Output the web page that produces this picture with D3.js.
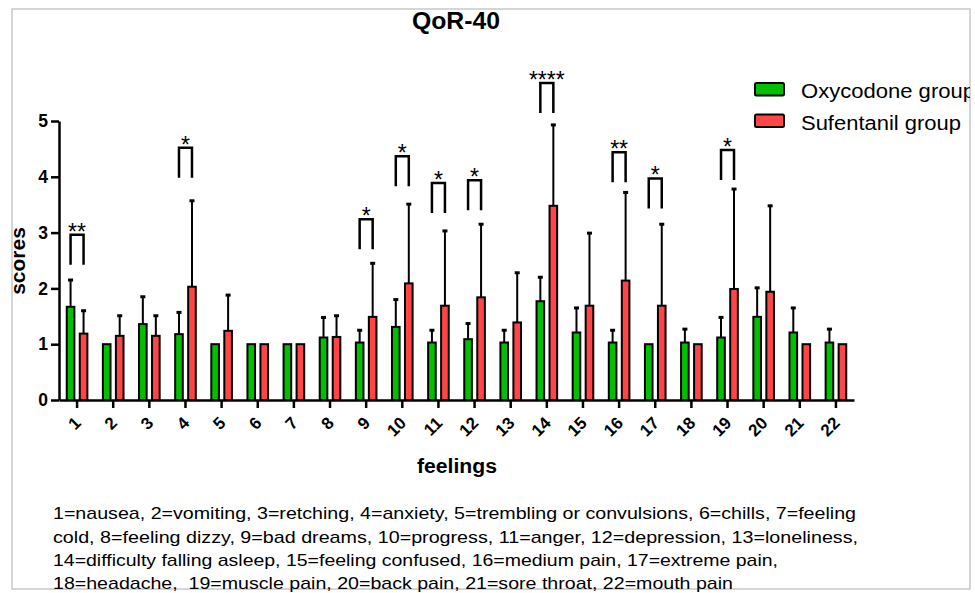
<!DOCTYPE html>
<html>
<head>
<meta charset="utf-8">
<script src="https://cdn.jsdelivr.net/npm/d3@7"></script>
<style>
  body { margin: 0; background: #fff; }
  svg { display: block; font-family: "Liberation Sans", Arial, sans-serif; }
</style>
</head>
<body>
<svg id="chart" width="975" height="593"></svg>
<script>
// QoR-40 item scores (mean with upper SD bar) for the two analgesia groups
const categories = ["1","2","3","4","5","6","7","8","9","10","11","12","13","14","15","16","17","18","19","20","21","22"];
const seriesNames = ["Oxycodone group", "Sufentanil group"];
const oxycodoneMean = [1.67, 1.00, 1.36, 1.18, 1.00, 1.00, 1.00, 1.12, 1.03, 1.31, 1.03, 1.09, 1.03, 1.77, 1.21, 1.03, 1.00, 1.03, 1.12, 1.49, 1.21, 1.03];
const oxycodoneSD   = [0.48, 0.00, 0.49, 0.39, 0.00, 0.00, 0.00, 0.36, 0.22, 0.49, 0.22, 0.28, 0.22, 0.43, 0.44, 0.22, 0.00, 0.24, 0.36, 0.52, 0.44, 0.24];
const sufentanilMean = [1.19, 1.15, 1.15, 2.03, 1.24, 1.00, 1.00, 1.13, 1.49, 2.09, 1.69, 1.84, 1.39, 3.48, 1.69, 2.14, 1.69, 1.00, 1.99, 1.94, 1.00, 1.00];
const sufentanilSD   = [0.41, 0.36, 0.36, 1.54, 0.64, 0.00, 0.00, 0.38, 0.96, 1.42, 1.34, 1.31, 0.89, 1.45, 1.30, 1.58, 1.46, 0.00, 1.79, 1.54, 0.00, 0.00];

// significance brackets: item, marker, bracket height on the score scale
const sigItems  = ["1", "4", "9", "10", "11", "12", "14", "16", "17", "19"];
const sigLabels = ["**", "*", "*", "*", "*", "*", "****", "**", "*", "*"];
const sigLevels = [2.96, 4.52, 3.24, 4.37, 3.89, 3.94, 5.68, 4.44, 3.97, 4.48];

const yTicks = [0, 1, 2, 3, 4, 5];
const titleText = "QoR-40";
const xTitle = "feelings";
const yTitle = "scores";
const footnoteLines = [
  "1=nausea, 2=vomiting, 3=retching, 4=anxiety, 5=trembling or convulsions, 6=chills, 7=feeling",
  "cold, 8=feeling dizzy, 9=bad dreams, 10=progress, 11=anger, 12=depression, 13=loneliness,",
  "14=difficulty falling asleep, 15=feeling confused, 16=medium pain, 17=extreme pain,",
  "18=headache,  19=muscle pain, 20=back pain, 21=sore throat, 22=mouth pain"
];

const GREEN = "#00c000";
const RED = "#ff4545";

const svg = d3.select("#chart");

// outer figure frame
const frame = { x: 12, y: 9, w: 958, h: 580 };
svg.append("defs").append("clipPath").attr("id", "frameClip")
  .append("rect").attr("x", frame.x).attr("y", frame.y).attr("width", frame.w).attr("height", frame.h);
svg.append("rect")
  .attr("x", frame.x).attr("y", frame.y).attr("width", frame.w).attr("height", frame.h)
  .attr("fill", "#fff").attr("stroke", "#c8c8c8").attr("stroke-width", 1.5);

const g = svg.append("g").attr("clip-path", "url(#frameClip)");

// scales
const x0 = d3.scaleBand().domain(categories).range([59, 854]).paddingInner(0.374).paddingOuter(0.187);
const x1 = d3.scaleBand().domain([0, 1]).range([0, x0.bandwidth()]).paddingInner(0.26);
const y = d3.scaleLinear().domain([0, 5]).range([400, 121]);

const series = [
  { name: seriesNames[0], mean: oxycodoneMean, sd: oxycodoneSD, color: GREEN },
  { name: seriesNames[1], mean: sufentanilMean, sd: sufentanilSD, color: RED }
];

const rows = [];
series.forEach((s, si) => {
  categories.forEach((c, i) => rows.push({ cat: c, si, mean: s.mean[i], sd: s.sd[i], color: s.color }));
});
const cx = d => x0(d.cat) + x1(d.si) + x1.bandwidth() / 2;

// error bars (upper half only)
const eb = g.append("g").attr("stroke", "#000").attr("stroke-width", 2);
rows.filter(d => d.sd > 0).forEach(d => {
  eb.append("line").attr("x1", cx(d)).attr("x2", cx(d)).attr("y1", y(d.mean)).attr("y2", y(d.mean + d.sd));
  eb.append("line").attr("x1", cx(d) - 2.5).attr("x2", cx(d) + 2.5)
    .attr("y1", y(d.mean + d.sd)).attr("y2", y(d.mean + d.sd)).attr("stroke-width", 3);
});

// bars
g.append("g").selectAll("rect").data(rows).join("rect")
  .attr("x", d => x0(d.cat) + x1(d.si) + 1)
  .attr("width", x1.bandwidth() - 2)
  .attr("y", d => y(d.mean))
  .attr("height", d => y(0) - y(d.mean))
  .attr("fill", d => d.color)
  .attr("stroke", "#000")
  .attr("stroke-width", 2);

// axes
const yAxis = g.append("g").attr("transform", `translate(59,0)`)
  .call(d3.axisLeft(y).tickValues(yTicks).tickFormat(d3.format("d")).tickSize(8).tickSizeOuter(0).tickPadding(3));
yAxis.select(".domain").attr("stroke-width", 2.5);
yAxis.selectAll(".tick line").attr("stroke-width", 2.5);
yAxis.selectAll("text").attr("font-size", 17.5).attr("font-weight", "bold")
  .attr("font-family", "Liberation Sans, Arial, sans-serif").attr("fill", "#000");

const xAxis = g.append("g").attr("transform", `translate(0,400)`)
  .call(d3.axisBottom(x0).tickSize(8).tickSizeOuter(0));
xAxis.select(".domain").attr("stroke-width", 2.5);
xAxis.selectAll(".tick line").attr("stroke-width", 2.5);
xAxis.selectAll("text")
  .attr("x", 0).attr("y", 0).attr("dy", 0)
  .attr("text-anchor", "end")
  .attr("transform", "translate(5,24) rotate(-45)")
  .attr("font-size", 17).attr("font-weight", "bold")
  .attr("font-family", "Liberation Sans, Arial, sans-serif").attr("fill", "#000");

// significance brackets
const sig = g.append("g");
sigItems.forEach((c, i) => {
  const xa = x0(c) + x1(0) + x1.bandwidth() / 2;
  const xb = x0(c) + x1(1) + x1.bandwidth() / 2;
  const top = y(sigLevels[i]);
  const bottom = top + 30;
  sig.append("path")
    .attr("d", `M${xa},${bottom}V${top}H${xb}V${bottom}`)
    .attr("fill", "none").attr("stroke", "#000").attr("stroke-width", 2.5);
  sig.append("text")
    .attr("x", (xa + xb) / 2).attr("y", top + 5)
    .attr("text-anchor", "middle").attr("font-size", 23)
    .text(sigLabels[i]);
});

// title and axis titles
g.append("text").attr("x", 456).attr("y", 29).attr("text-anchor", "middle")
  .attr("font-size", 23).attr("font-weight", "bold")
  .attr("textLength", 88).attr("lengthAdjust", "spacingAndGlyphs")
  .text(titleText);

g.append("text").attr("x", 457).attr("y", 473).attr("text-anchor", "middle")
  .attr("font-size", 20).attr("font-weight", "bold")
  .attr("textLength", 80).attr("lengthAdjust", "spacingAndGlyphs")
  .text(xTitle);

g.append("text").attr("transform", "translate(25,261) rotate(-90)").attr("text-anchor", "middle")
  .attr("font-size", 21).attr("font-weight", "bold")
  .text(yTitle);

// legend
const legendWidths = [174, 160];
const legend = g.append("g");
series.forEach((s, i) => {
  const ly = 83 + i * 31.5;
  legend.append("rect").attr("x", 755).attr("y", ly).attr("width", 29).attr("height", 12.5)
    .attr("rx", 1.5).attr("fill", s.color).attr("stroke", "#000").attr("stroke-width", 2);
  legend.append("text").attr("x", 801).attr("y", ly + 15)
    .attr("font-size", 19.5)
    .attr("textLength", legendWidths[i]).attr("lengthAdjust", "spacingAndGlyphs")
    .text(s.name);
});

// item key below the chart
const footWidths = [803, 805, 725, 680];
const footBase = [519, 543, 566, 589];
footnoteLines.forEach((line, i) => {
  svg.append("text").attr("x", 53).attr("y", footBase[i])
    .attr("font-size", 17).style("white-space", "pre")
    .attr("textLength", footWidths[i]).attr("lengthAdjust", "spacingAndGlyphs")
    .text(line);
});
</script>
</body>
</html>
